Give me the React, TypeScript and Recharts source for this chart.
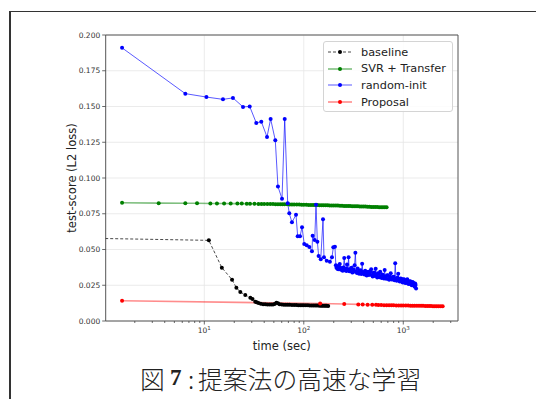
import React from 'react';
import { LineChart, Line, XAxis, YAxis, CartesianGrid, ReferenceArea } from 'recharts';

// baseline (dashed black)
const baselineTime = [0.8, 11.1, 15, 19, 21, 23, 25.8, 29, 30.5, 32.5, 33.6, 35, 37, 39, 41, 43, 45, 47, 49, 51, 53, 55, 57, 60, 63, 66, 69, 72, 76, 80, 84, 88, 92, 96, 100, 105, 110, 115, 120, 125, 130, 135, 140, 145, 150, 155, 160, 165, 170, 176];
const baselineScore = [0.0578, 0.0564, 0.0373, 0.0289, 0.0233, 0.0203, 0.0182, 0.0163, 0.0154, 0.0135, 0.0131, 0.0126, 0.012, 0.0118, 0.0117, 0.0116, 0.0116, 0.0115, 0.0116, 0.0119, 0.0128, 0.0124, 0.0117, 0.0115, 0.0114, 0.0114, 0.0113, 0.0113, 0.0112, 0.0112, 0.0112, 0.0111, 0.0111, 0.0111, 0.011, 0.011, 0.011, 0.0109, 0.0109, 0.0109, 0.0108, 0.0108, 0.0108, 0.0107, 0.0107, 0.0107, 0.0106, 0.0106, 0.0106, 0.0105];

// SVR + Transfer (green)
const svrTime = [1.49, 3.48, 6.44, 8.45, 11.5, 13.4, 15.8, 18.4, 21.5, 23.8, 26.7, 28.8, 31.9, 35, 37.5, 40, 43, 46, 49, 52, 55, 58, 61, 64, 68, 72, 76, 80, 85, 90, 95, 100, 106, 112, 118, 124, 130, 137, 144, 151, 158, 166, 174, 182, 191, 200, 210, 220, 231, 242, 254, 266, 279, 292, 306, 320, 335, 350, 366, 383, 400, 418, 437, 457, 478, 500, 523, 547, 572, 598, 625, 652, 680];
const svrScore = [0.0827, 0.0824, 0.0823, 0.0823, 0.0822, 0.0822, 0.0822, 0.0821, 0.0821, 0.0821, 0.0820, 0.0820, 0.0820, 0.0819, 0.0819, 0.0819, 0.0818, 0.0818, 0.0818, 0.0817, 0.0817, 0.0817, 0.0816, 0.0816, 0.0816, 0.0815, 0.0815, 0.0815, 0.0814, 0.0814, 0.0813, 0.0813, 0.0813, 0.0812, 0.0812, 0.0812, 0.0811, 0.0811, 0.0810, 0.0810, 0.0810, 0.0809, 0.0809, 0.0808, 0.0808, 0.0808, 0.0807, 0.0807, 0.0806, 0.0806, 0.0805, 0.0805, 0.0804, 0.0804, 0.0803, 0.0803, 0.0802, 0.0802, 0.0801, 0.0801, 0.0800, 0.0800, 0.0799, 0.0799, 0.0798, 0.0798, 0.0797, 0.0797, 0.0796, 0.0796, 0.0796, 0.0795, 0.0795];

// random-init (blue)
const randomTime = [1.49, 6.44, 10.5, 15.4, 19.4, 24.5, 28.6, 33.3, 37.4, 42.7, 46.4, 51.7, 55, 60.4, 64.3, 68.9, 71.5, 76, 83.5, 86.8, 91.6, 96, 101, 107, 113.6, 120.8, 122.7, 128.7, 132.7, 136.9, 141, 148, 156, 159.6, 170, 183, 192, 198, 205.6,
  210, 213, 215, 218, 222, 226, 230, 234, 238, 242, 246, 250, 255, 259, 264, 268, 272, 277, 282, 287, 292, 297, 302, 307, 313, 318, 324, 330, 336, 342, 348, 354, 360, 366, 373, 380, 386, 393, 400, 407, 414, 421, 429, 436, 444, 452, 460, 468, 476, 484, 493, 501, 510, 519, 528, 537, 547, 556, 566, 576, 586, 596, 607, 617, 628, 639, 650, 661, 673, 685, 697, 709, 722, 735, 748, 761, 774, 788, 802, 816, 830, 845, 860, 875, 890, 906, 922, 938, 955, 971, 988, 1005, 1023, 1041, 1060, 1078, 1097, 1116, 1136, 1156, 1176, 1197, 1218, 1240, 1261, 1284, 1306, 1318, 1330, 1345];
const randomScore = [0.191, 0.159, 0.1566, 0.155, 0.156, 0.1497, 0.150, 0.1385, 0.1394, 0.1287, 0.1413, 0.1264, 0.094, 0.0855, 0.1413, 0.0823, 0.0753, 0.069, 0.0743, 0.0592, 0.0592, 0.0655, 0.0538, 0.0529, 0.0517, 0.0487, 0.0597, 0.0566, 0.0813, 0.0555, 0.0455, 0.0431, 0.0711, 0.0445, 0.0422, 0.0415, 0.0445, 0.0515, 0.052,
  0.039, 0.0372, 0.0385, 0.0366, 0.0362, 0.038, 0.0398, 0.036, 0.0371, 0.0356, 0.0352, 0.0375, 0.044, 0.0355, 0.0368, 0.035, 0.0395, 0.0362, 0.0445, 0.0348, 0.035, 0.0366, 0.0372, 0.034, 0.0341, 0.0358, 0.039, 0.0478, 0.0346, 0.0336, 0.0368, 0.034, 0.033, 0.0352, 0.0355, 0.0328, 0.04, 0.0342, 0.0338, 0.0325, 0.0352, 0.0336, 0.0318, 0.034, 0.0345, 0.0322, 0.033, 0.0348, 0.0362, 0.032, 0.0312, 0.0335, 0.034, 0.0315, 0.0366, 0.0322, 0.0305, 0.0334, 0.0328, 0.0306, 0.0345, 0.0312, 0.03, 0.0325, 0.0316, 0.0298, 0.0356, 0.0305, 0.0296, 0.0318, 0.032, 0.0293, 0.0288, 0.031, 0.0334, 0.0292, 0.029, 0.0308, 0.031, 0.0285, 0.0403, 0.0296, 0.0282, 0.0302, 0.033, 0.0284, 0.0276, 0.0298, 0.0296, 0.0274, 0.027, 0.0292, 0.029, 0.0268, 0.0265, 0.0284, 0.0292, 0.0262, 0.0258, 0.0276, 0.0278, 0.0255, 0.025, 0.0272, 0.0268, 0.0246, 0.024, 0.0262, 0.0252, 0.0228];

// Proposal (red)
const proposalTime = [1.49, 146, 255, 353, 391, 438, 488, 532, 562, 600, 640, 680, 720, 760, 800, 850, 900, 950, 1000, 1060, 1120, 1180, 1240, 1300, 1370, 1440, 1510, 1580, 1660, 1740, 1820, 1900, 1990, 2080, 2170, 2270, 2380, 2490];
const proposalScore = [0.0142, 0.0122, 0.0119, 0.0116, 0.0115, 0.0114, 0.0113, 0.0113, 0.0112, 0.0112, 0.0111, 0.0111, 0.011, 0.011, 0.011, 0.0109, 0.0109, 0.0109, 0.0108, 0.0108, 0.0108, 0.0107, 0.0107, 0.0107, 0.0106, 0.0106, 0.0106, 0.0106, 0.0105, 0.0105, 0.0105, 0.0105, 0.0104, 0.0104, 0.0104, 0.0104, 0.0103, 0.0103];

const timeDomain = [1.02, 3550];
const majorTimeTicks = [10, 100, 1000];
const minorTimeTicks = [2, 3, 4, 5, 6, 7, 8, 9, 20, 30, 40, 50, 60, 70, 80, 90, 200, 300, 400, 500, 600, 700, 800, 900, 2000, 3000];
const scoreTicks = [0, 0.025, 0.05, 0.075, 0.1, 0.125, 0.15, 0.175, 0.2];

const toRows = (t: number[], v: number[]) => t.map((time, i) => ({ time, score: v[i] }));

const series = [
  { name: 'baseline', rows: toRows(baselineTime, baselineScore), color: '#000000', lineOpacity: 0.9, width: 0.8, dash: '3 2' },
  { name: 'SVR + Transfer', rows: toRows(svrTime, svrScore), color: '#008000', lineOpacity: 0.5, width: 1.6, dash: undefined },
  { name: 'random-init', rows: toRows(randomTime, randomScore), color: '#0000ff', lineOpacity: 0.65, width: 1, dash: undefined },
  { name: 'Proposal', rows: toRows(proposalTime, proposalScore), color: '#ff0000', lineOpacity: 0.45, width: 1.6, dash: undefined },
];

const TICK_SIZE = 3.5;
const TICK_MARGIN = 2;
const tickFont = { fontFamily: 'DejaVu Sans', fontSize: 7.5, fill: '#333' };

const TimeTick = (props: any) => {
  const { x, y, payload } = props;
  const major = majorTimeTicks.includes(payload.value);
  const y0 = y - TICK_SIZE - TICK_MARGIN;
  return (
    <g>
      <line x1={x} x2={x} y1={y0} y2={y0 + (major ? 3.5 : 2)} stroke="#444" strokeWidth={0.8} />
      {major && (
        <text x={x} y={y + 6.5} textAnchor="middle" {...tickFont}>
          10<tspan dy={-3} fontSize={5.5}>{Math.round(Math.log10(payload.value))}</tspan>
        </text>
      )}
    </g>
  );
};

const Legend = () => (
  <div style={{
    position: 'absolute', left: 323, top: 41, width: 128, height: 69,
    border: '1px solid #d4d4d4', borderRadius: 3, background: 'rgba(255,255,255,0.85)',
    fontFamily: 'DejaVu Sans', fontSize: 11.3, color: '#222',
  }}>
    {series.map((s, i) => (
      <div key={s.name} style={{ position: 'absolute', left: 4, top: 2 + i * 16.7, height: 16, display: 'flex', alignItems: 'center' }}>
        <svg width={24} height={10} style={{ marginRight: 9 }}>
          <line x1={0} x2={24} y1={5} y2={5} stroke={s.color} strokeOpacity={s.lineOpacity}
            strokeWidth={s.width} strokeDasharray={s.dash} />
          <circle cx={12} cy={5} r={2} fill={s.color} />
        </svg>
        <span>{s.name}</span>
      </div>
    ))}
  </div>
);

const captionStyle: React.CSSProperties = {
  position: 'absolute', top: 360, whiteSpace: 'nowrap', fontFamily: '"Noto Sans CJK JP"',
  fontSize: 24.8, color: '#222', fontWeight: 300, lineHeight: '36px',
};

export default function App() {
  return (
    <div style={{ position: 'absolute', left: 0, top: 0, width: 536, height: 399, background: '#fff', overflow: 'hidden' }}>
      {/* page frame: top and left only */}
      <div style={{ position: 'absolute', left: 9, top: 10.5, width: 530, height: 1.5, background: '#333' }} />
      <div style={{ position: 'absolute', left: 9, top: 10.5, width: 1.5, height: 400, background: '#333' }} />

      <LineChart width={536} height={399} margin={{ top: 35, right: 78, left: 45.7, bottom: 48 }}
        style={{ position: 'absolute', left: 0, top: 0 }}>
        <CartesianGrid stroke="#e6e6e6" strokeWidth={0.8} verticalValues={majorTimeTicks} horizontalValues={scoreTicks} />
        <XAxis dataKey="time" type="number" scale="log" domain={timeDomain} allowDataOverflow
          ticks={[...majorTimeTicks, ...minorTimeTicks]} interval={0} height={30}
          tickSize={TICK_SIZE} tickMargin={TICK_MARGIN} tickLine={false} axisLine={false}
          tick={<TimeTick />}
          label={{ value: 'time (sec)', position: 'insideBottom', offset: 1, style: { fontFamily: 'DejaVu Sans', fontSize: 11.5, fill: '#222' } }} />
        <YAxis dataKey="score" type="number" domain={[0, 0.2]} ticks={scoreTicks} interval={0} width={60}
          tickSize={TICK_SIZE} tickMargin={TICK_MARGIN} tick={tickFont} axisLine={false}
          tickLine={{ stroke: '#444', strokeWidth: 0.8 }}
          tickFormatter={(v: number) => v.toFixed(3)}
          label={{ value: 'test-score (L2 loss)', angle: -90, position: 'center', dx: -4, style: { fontFamily: 'DejaVu Sans', fontSize: 11.5, fill: '#222' } }} />
        {series.map((s) => (
          <Line key={s.name} data={s.rows} dataKey="score" name={s.name} type="linear"
            stroke={s.color} strokeOpacity={s.lineOpacity} strokeWidth={s.width} strokeDasharray={s.dash}
            dot={{ r: 2, fill: s.color, stroke: 'none' }} activeDot={false} isAnimationActive={false} />
        ))}
        <ReferenceArea x1={timeDomain[0]} x2={timeDomain[1]} y1={0} y2={0.2} fill="none" fillOpacity={0}
          stroke="#555" strokeWidth={1} ifOverflow="visible" />
      </LineChart>

      <Legend />

      <span style={{ ...captionStyle, left: 140 }}>図</span>
      <span style={{ ...captionStyle, left: 170, fontFamily: '"Liberation Serif"', fontWeight: 'bold', fontSize: 23 }}>7</span>
      <span style={{ ...captionStyle, left: 188 }}>:</span>
      <span style={{ ...captionStyle, left: 198 }}>提案法の高速な学習</span>
    </div>
  );
}
